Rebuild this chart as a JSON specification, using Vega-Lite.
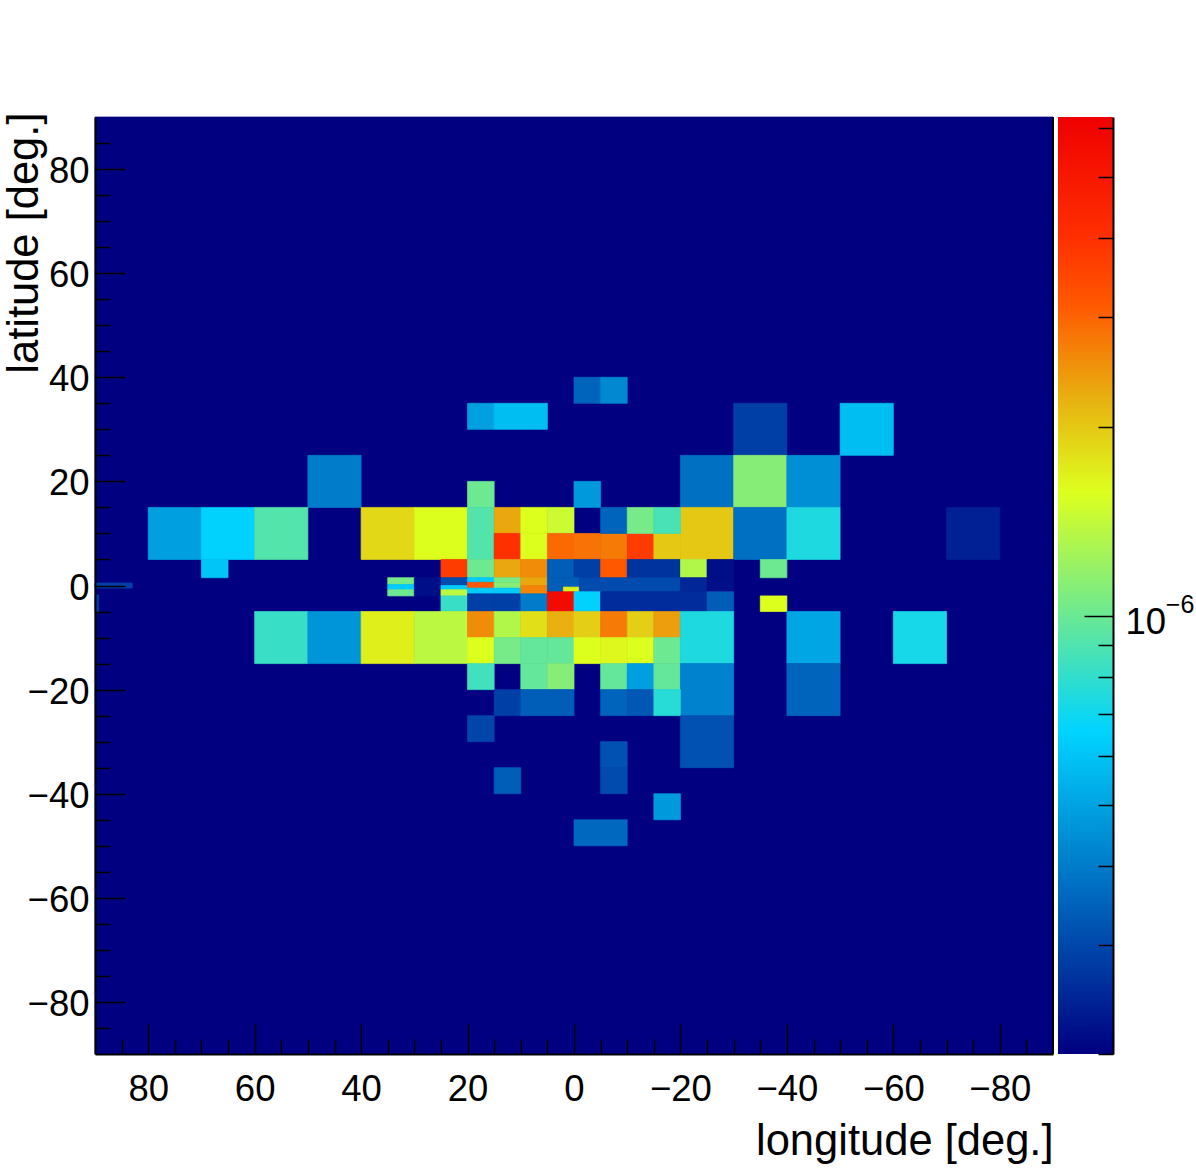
{
"$schema":"https://vega.github.io/schema/vega-lite/v6.json",
"background":"white",
"padding":{"left":2,"top":111,"right":3,"bottom":5},
"spacing":5,
"bounds":"flush",
"config":{"view":{"stroke":null},"font":"Liberation Sans"},
"hconcat":[
{"width":958,"height":937,
"resolve":{"axis":{"x":"independent","y":"independent"}},
"layer":[
{"data":{"values":[
{"w":90,"e":-90,"n":90,"s":-90,"v":2.01e-7},
{"w":0,"e":-5,"n":40,"s":35,"v":3.51e-7},{"w":-5,"e":-10,"n":40,"s":35,"v":4.3e-7},
{"w":20,"e":15,"n":35,"s":30,"v":4.93e-7},{"w":15,"e":5,"n":35,"s":30,"v":5.85e-7},
{"w":-30,"e":-40,"n":35,"s":25,"v":2.86e-7},{"w":-50,"e":-60,"n":35,"s":25,"v":5.85e-7},
{"w":50,"e":40,"n":25,"s":15,"v":4.02e-7},{"w":-20,"e":-30,"n":25,"s":15,"v":3.76e-7},{"w":-30,"e":-40,"n":25,"s":15,"v":1.12e-6},{"w":-40,"e":-50,"n":25,"s":15,"v":4.45e-7},
{"w":20,"e":15,"n":20,"s":15,"v":1.01e-6},{"w":0,"e":-5,"n":20,"s":15,"v":4.77e-7},
{"w":80,"e":70,"n":15,"s":5,"v":4.93e-7},{"w":70,"e":60,"n":15,"s":5,"v":6.49e-7},{"w":60,"e":50,"n":15,"s":5,"v":9.13e-7},
{"w":40,"e":30,"n":15,"s":5,"v":1.87e-6},{"w":30,"e":20,"n":15,"s":5,"v":1.58e-6},{"w":20,"e":15,"n":15,"s":5,"v":9.13e-7},
{"w":15,"e":10,"n":15,"s":10,"v":2.3e-6},{"w":15,"e":10,"n":10,"s":5,"v":3.97e-6},
{"w":10,"e":5,"n":15,"s":10,"v":1.58e-6},{"w":5,"e":0,"n":15,"s":10,"v":1.47e-6},{"w":10,"e":5,"n":10,"s":5,"v":1.58e-6},
{"w":5,"e":0,"n":10,"s":5,"v":2.92e-6},{"w":0,"e":-5,"n":10,"s":5,"v":2.82e-6},{"w":-5,"e":-10,"n":10,"s":5,"v":2.73e-6},{"w":-10,"e":-15,"n":10,"s":5,"v":3.7e-6},{"w":-15,"e":-20,"n":10,"s":5,"v":2.0e-6},
{"w":-20,"e":-30,"n":15,"s":5,"v":2.0e-6},
{"w":-5,"e":-10,"n":15,"s":10,"v":3.51e-7},{"w":-10,"e":-15,"n":15,"s":10,"v":1.05e-6},{"w":-15,"e":-20,"n":15,"s":10,"v":8.82e-7},
{"w":-30,"e":-40,"n":15,"s":5,"v":3.76e-7},{"w":-40,"e":-50,"n":15,"s":5,"v":7.44e-7},{"w":-70,"e":-80,"n":15,"s":5,"v":2.41e-7},
{"w":70,"e":65,"n":5,"s":1.5,"v":6.06e-7},
{"w":25,"e":20,"n":5,"s":1.5,"v":3.7e-6},{"w":20,"e":15,"n":5,"s":1.5,"v":1.01e-6},{"w":15,"e":10,"n":5,"s":1.5,"v":2.3e-6},{"w":10,"e":5,"n":5,"s":1.5,"v":2.55e-6},
{"w":5,"e":0,"n":5,"s":1.5,"v":3.39e-7},{"w":0,"e":-5,"n":5,"s":1.5,"v":2.86e-7},{"w":-5,"e":-10,"n":5,"s":1.5,"v":3.12e-6},{"w":-10,"e":-20,"n":5,"s":1.5,"v":2.67e-7},{"w":-20,"e":-25,"n":5,"s":1.5,"v":1.33e-6},{"w":-25,"e":-30,"n":5,"s":1.5,"v":2.17e-7},
{"w":-35,"e":-40,"n":5,"s":1.5,"v":1.01e-6},
{"w":35,"e":30,"n":1.5,"s":0.2,"v":1.05e-6},{"w":35,"e":30,"n":0.2,"s":-0.8,"v":6.27e-7},{"w":35,"e":30,"n":-0.8,"s":-2,"v":1.01e-6},
{"w":30,"e":25,"n":1.5,"s":-2,"v":2.17e-7},
{"w":25,"e":20,"n":1.5,"s":0,"v":3.06e-7},{"w":25,"e":20,"n":0,"s":-0.8,"v":6.27e-7},{"w":25,"e":20,"n":-0.8,"s":-2,"v":1.38e-6},{"w":25,"e":20,"n":-2,"s":-5,"v":8.24e-7},
{"w":20,"e":15,"n":1.5,"s":0.6,"v":6.27e-7},{"w":20,"e":15,"n":0.6,"s":-0.5,"v":3.12e-6},{"w":20,"e":15,"n":-0.5,"s":-1.6,"v":6.27e-7},{"w":20,"e":15,"n":-1.6,"s":-5,"v":2.86e-7},
{"w":15,"e":10,"n":1.5,"s":0.5,"v":1.05e-6},{"w":15,"e":10,"n":0.5,"s":-0.5,"v":1.12e-6},{"w":15,"e":10,"n":-0.5,"s":-1.6,"v":6.27e-7},{"w":15,"e":10,"n":-1.6,"s":-5,"v":2.86e-7},
{"w":10,"e":5,"n":1.5,"s":0,"v":2.3e-6},{"w":10,"e":5,"n":0,"s":-1.6,"v":2.63e-6},{"w":10,"e":5,"n":-1.6,"s":-5,"v":4.02e-7},
{"w":5,"e":2,"n":1.5,"s":-1.2,"v":3.39e-7},{"w":2,"e":-1,"n":1.5,"s":-0.3,"v":3.39e-7},{"w":2,"e":-1,"n":-0.3,"s":-1.2,"v":1.69e-6},
{"w":-1,"e":-20,"n":1.5,"s":-1.2,"v":3.06e-7},{"w":-20,"e":-25,"n":1.5,"s":-1.2,"v":2.49e-7},{"w":-25,"e":-30,"n":1.5,"s":-1.2,"v":2.17e-7},
{"w":5,"e":0,"n":-1.2,"s":-5,"v":5.6e-6},{"w":0,"e":-5,"n":-1.2,"s":-5,"v":6.49e-7},{"w":-5,"e":-25,"n":-1.2,"s":-5,"v":2.58e-7},{"w":-25,"e":-30,"n":-1.2,"s":-5,"v":3.39e-7},
{"w":-35,"e":-40,"n":-2,"s":-5,"v":1.58e-6},
{"w":90,"e":83,"n":0.5,"s":-0.5,"v":2.86e-7},{"w":90,"e":89.3,"n":-1.8,"s":-5,"v":2.86e-7},
{"w":60,"e":50,"n":-5,"s":-15,"v":8.24e-7},{"w":50,"e":40,"n":-5,"s":-15,"v":4.61e-7},{"w":40,"e":30,"n":-5,"s":-15,"v":1.69e-6},{"w":30,"e":20,"n":-5,"s":-15,"v":1.38e-6},
{"w":20,"e":15,"n":-5,"s":-10,"v":2.55e-6},{"w":20,"e":15,"n":-10,"s":-15,"v":1.58e-6},{"w":15,"e":10,"n":-5,"s":-10,"v":1.33e-6},{"w":15,"e":10,"n":-10,"s":-15,"v":1.05e-6},
{"w":10,"e":5,"n":-5,"s":-10,"v":1.81e-6},{"w":10,"e":5,"n":-10,"s":-15,"v":9.78e-7},{"w":5,"e":0,"n":-5,"s":-10,"v":2.22e-6},{"w":5,"e":0,"n":-10,"s":-15,"v":9.78e-7},
{"w":0,"e":-5,"n":-5,"s":-10,"v":1.94e-6},{"w":0,"e":-5,"n":-10,"s":-15,"v":1.58e-6},{"w":-5,"e":-10,"n":-5,"s":-10,"v":2.73e-6},{"w":-5,"e":-10,"n":-10,"s":-15,"v":1.63e-6},
{"w":-10,"e":-15,"n":-5,"s":-10,"v":1.94e-6},{"w":-10,"e":-15,"n":-10,"s":-15,"v":1.58e-6},{"w":-15,"e":-20,"n":-5,"s":-10,"v":2.38e-6},{"w":-15,"e":-20,"n":-10,"s":-15,"v":1.01e-6},
{"w":-20,"e":-30,"n":-5,"s":-15,"v":7.44e-7},{"w":-40,"e":-50,"n":-5,"s":-15,"v":5.11e-7},{"w":-60,"e":-70,"n":-5,"s":-15,"v":7.19e-7},
{"w":20,"e":15,"n":-15,"s":-20,"v":8.53e-7},{"w":10,"e":5,"n":-15,"s":-20,"v":9.78e-7},{"w":5,"e":0,"n":-15,"s":-20,"v":1.12e-6},{"w":-5,"e":-10,"n":-15,"s":-20,"v":9.78e-7},{"w":-10,"e":-15,"n":-15,"s":-20,"v":4.93e-7},{"w":-15,"e":-20,"n":-15,"s":-20,"v":9.78e-7},
{"w":-20,"e":-30,"n":-15,"s":-25,"v":4.16e-7},{"w":-40,"e":-50,"n":-15,"s":-25,"v":3.51e-7},
{"w":15,"e":10,"n":-20,"s":-25,"v":2.86e-7},{"w":10,"e":0,"n":-20,"s":-25,"v":3.39e-7},{"w":-5,"e":-10,"n":-20,"s":-25,"v":3.51e-7},{"w":-10,"e":-15,"n":-20,"s":-25,"v":3.28e-7},{"w":-15,"e":-20,"n":-20,"s":-25,"v":7.7e-7},
{"w":20,"e":15,"n":-25,"s":-30,"v":2.96e-7},{"w":-20,"e":-30,"n":-25,"s":-35,"v":3.17e-7},
{"w":-5,"e":-10,"n":-30,"s":-35,"v":3.17e-7},{"w":-5,"e":-10,"n":-35,"s":-40,"v":3.06e-7},{"w":15,"e":10,"n":-35,"s":-40,"v":3.39e-7},
{"w":-15,"e":-20,"n":-40,"s":-45,"v":4.77e-7},{"w":0,"e":-10,"n":-45,"s":-50,"v":3.63e-7}
]},
"mark":{"type":"rect","strokeWidth":0.7},
"encoding":{
"x":{"field":"w","type":"quantitative","scale":{"domain":[90,-90],"nice":false,"zero":false},
"axis":{"orient":"bottom","zindex":1,"title":"longitude [deg.]","titleFontSize":43.5,"titleFontWeight":"normal","titleColor":"black","titleAnchor":"end","titlePadding":13,
"values":[80,60,40,20,0,-20,-40,-60,-80],
"format":"d","labelOverlap":false,"labelFlush":false,"labelFontSize":36.5,"labelColor":"black","labelPadding":47,"grid":false,
"domainColor":"black","domainWidth":2,"tickColor":"black","tickWidth":1.5,"tickSize":-30}},
"x2":{"field":"e"},
"y":{"field":"s","type":"quantitative","scale":{"domain":[-90,90],"nice":false,"zero":false},
"axis":{"orient":"left","zindex":1,"title":"latitude [deg.]","titleFontSize":43.5,"titleFontWeight":"normal","titleColor":"black","titleAnchor":"end","titlePadding":-19,"titleY":-5,
"values":[80,60,40,20,0,-20,-40,-60,-80],
"format":"d","labelOverlap":false,"labelFlush":false,"labelOffset":2.5,"labelFontSize":36.5,"labelColor":"black","labelPadding":36,"grid":false,
"domainColor":"black","domainWidth":2,"tickColor":"black","tickWidth":1.5,"tickSize":-30}},
"y2":{"field":"n"},
"color":{"field":"v","type":"quantitative","legend":null,
"scale":{"type":"log","interpolate":"rgb","domain":[2.01e-7,6.6e-7,1.58e-6,2.22e-6,3.12e-6,3.97e-6,6.24e-6],"range":["#000080","#00D4FF","#DDFF1E","#E8B010","#FF5800","#FF3000","#F00000"]}},
"stroke":{"field":"v","type":"quantitative","legend":null,
"scale":{"type":"log","interpolate":"rgb","domain":[2.01e-7,6.6e-7,1.58e-6,2.22e-6,3.12e-6,3.97e-6,6.24e-6],"range":["#000080","#00D4FF","#DDFF1E","#E8B010","#FF5800","#FF3000","#F00000"]}}
}},
{"data":{"values":[{"edge":-90}]},
"mark":{"type":"rule","color":"black","strokeWidth":2},
"encoding":{"x":{"field":"edge","type":"quantitative","axis":null}}},
{"data":{"values":[{"lon":0,"lat":0}]},
"mark":{"type":"point","opacity":0},
"encoding":{
"x":{"field":"lon","type":"quantitative","axis":{"orient":"bottom","zindex":1,"title":null,"labels":false,"domain":false,"grid":false,"tickColor":"black","tickWidth":1.5,"tickSize":-15,"values":[85,75,70,65,55,50,45,35,30,25,15,10,5,-5,-10,-15,-25,-30,-35,-45,-50,-55,-65,-70,-75,-85]}},
"y":{"field":"lat","type":"quantitative","axis":{"orient":"left","zindex":1,"title":null,"labels":false,"domain":false,"grid":false,"tickColor":"black","tickWidth":1.5,"tickSize":-15,"values":[85,75,70,65,55,50,45,35,30,25,15,10,5,-5,-10,-15,-25,-30,-35,-45,-50,-55,-65,-70,-75,-85]}}
}}
]},
{"width":55,"height":937,
"resolve":{"axis":{"y":"independent"}},
"layer":[
{"data":{"values":[{"low":2.01e-7,"high":6.24e-6}]},
"mark":{"type":"rect","color":{"gradient":"linear","x1":0,"y1":1,"x2":0,"y2":0,"stops":[
{"offset":0,"color":"#000080"},{"offset":0.345,"color":"#00D4FF"},{"offset":0.6,"color":"#DDFF1E"},{"offset":0.7,"color":"#E8B010"},{"offset":0.8,"color":"#FF5800"},{"offset":0.87,"color":"#FF3000"},{"offset":1,"color":"#F00000"}]}},
"encoding":{
"y":{"field":"low","type":"quantitative","scale":{"type":"log","domain":[2.01e-7,6.24e-6],"nice":false},
"axis":{"orient":"right","zindex":1,"title":null,"grid":false,"values":[1e-6],
"labelExpr":"'10'","labelOverlap":false,"labelFontSize":36.5,"labelColor":"black","labelPadding":41,"labelOffset":6,"labelFlush":false,
"domainColor":"black","domainWidth":2,"tickColor":"black","tickWidth":1.5,"tickSize":-29}},
"y2":{"field":"high"}
}},
{"data":{"values":[{"pos":1.96,"v":1e-6,"label":"−6"}]},
"mark":{"type":"text","align":"left","baseline":"alphabetic","fontSize":25,"dy":-3,"color":"black"},
"encoding":{
"x":{"field":"pos","type":"quantitative","scale":{"domain":[0,1],"nice":false,"clamp":false},"axis":null},
"y":{"field":"v","type":"quantitative","axis":{"orient":"right","zindex":1,"title":null,"labels":false,"domain":false,"grid":false,"tickColor":"black","tickWidth":1.5,"tickSize":-15,"values":[6e-6,5e-6,4e-6,3e-6,2e-6,9e-7,8e-7,7e-7,6e-7,5e-7,4e-7,3e-7,2.01e-7]}},
"text":{"field":"label"}
}}
]}
]}
